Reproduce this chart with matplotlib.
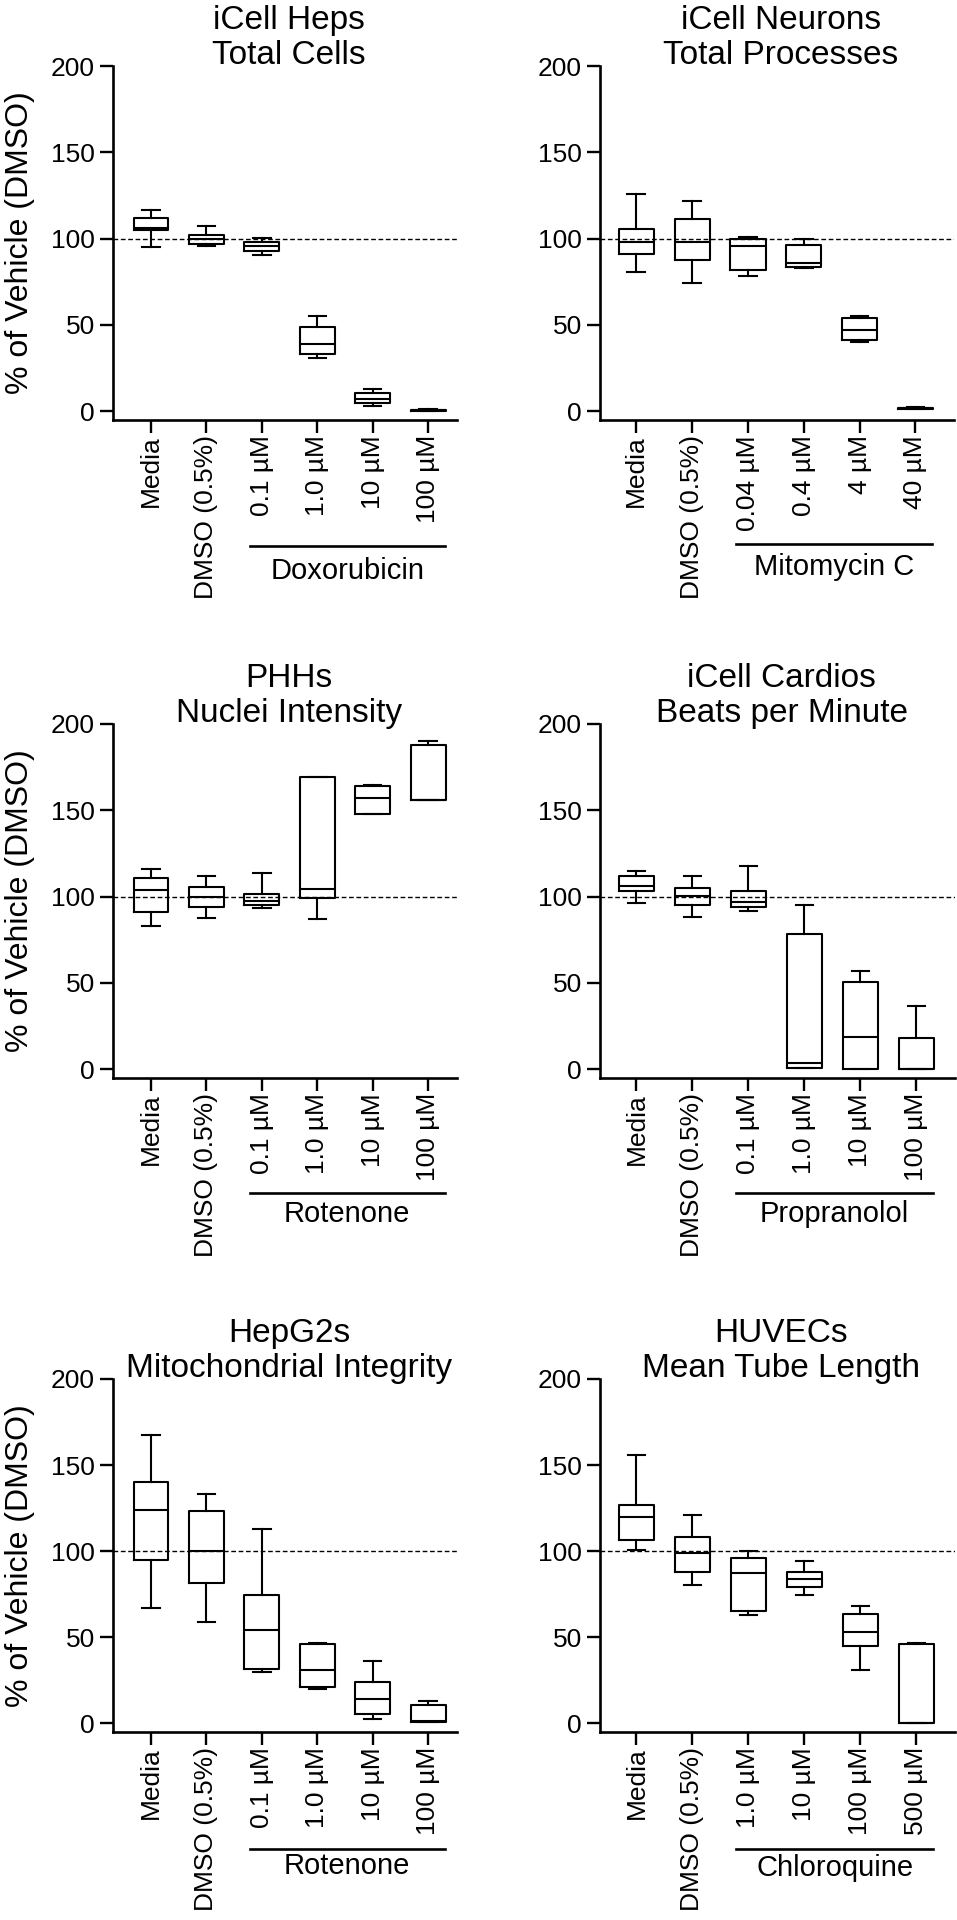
import matplotlib
matplotlib.use('Agg')
import matplotlib.pyplot as plt
from matplotlib.transforms import offset_copy

plt.rcParams['font.family'] = ['Liberation Sans', 'DejaVu Sans']

# box stats per group: (min, q1, median, q3, max), % of vehicle
heps = [(94.9, 105.2, 106.0, 112.0, 116.6), (95.5, 97.0, 99.5, 102.0, 107.0),
        (90.3, 92.6, 95.5, 97.8, 100.3), (30.9, 33.1, 38.9, 48.9, 54.9),
        (3.0, 4.6, 6.9, 10.7, 12.6), (0.0, 0.2, 0.4, 0.8, 1.0)]
neurons = [(80.7, 91.3, 97.7, 105.5, 126.0), (74.5, 87.6, 97.7, 111.2, 121.6),
           (78.0, 81.9, 95.9, 99.8, 100.7), (83.0, 83.5, 86.0, 96.3, 100.0),
           (39.9, 41.3, 47.0, 53.9, 55.0), (1.1, 1.4, 1.6, 1.8, 2.3)]
phh = [(82.8, 90.9, 104.0, 110.5, 116.0), (87.6, 94.0, 99.9, 105.8, 112.0),
       (93.3, 95.1, 97.5, 101.3, 113.6), (86.9, 99.4, 104.6, 169.2, 169.2),
       (147.9, 147.9, 156.9, 163.8, 164.5), (156.2, 156.2, 156.2, 187.7, 190.0)]
cardio = [(96.3, 103.0, 106.0, 111.7, 114.8), (88.3, 95.1, 100.1, 104.9, 112.0),
          (91.6, 94.0, 97.0, 103.0, 117.9), (0.5, 0.5, 3.6, 78.1, 95.1),
          (0.0, 0.0, 18.5, 50.4, 56.8), (0.0, 0.0, 0.0, 17.8, 36.7)]
hepg2 = [(66.6, 95.0, 123.6, 140.0, 167.7), (58.8, 81.3, 99.9, 123.1, 133.4),
         (29.4, 31.3, 53.9, 74.7, 112.6), (19.6, 20.8, 30.6, 46.0, 46.5),
         (2.4, 5.4, 14.2, 23.7, 36.2), (0.7, 0.7, 1.2, 10.3, 12.7)]
huvec = [(100.4, 106.5, 120.0, 126.6, 155.9), (80.3, 87.6, 98.7, 108.4, 121.2),
         (62.9, 64.9, 87.4, 96.2, 99.9), (74.2, 78.8, 84.0, 87.6, 94.2),
         (30.6, 44.6, 53.1, 63.6, 67.8), (0.0, 0.0, 0.0, 46.0, 46.5)]

labels_dox = ['Media', 'DMSO (0.5%)', '0.1 µM', '1.0 µM', '10 µM', '100 µM']
labels_mito = ['Media', 'DMSO (0.5%)', '0.04 µM', '0.4 µM', '4 µM', '40 µM']
labels_chlq = ['Media', 'DMSO (0.5%)', '1.0 µM', '10 µM', '100 µM', '500 µM']

titles = [('iCell Heps', 'Total Cells'), ('iCell Neurons', 'Total Processes'),
          ('PHHs', 'Nuclei Intensity'), ('iCell Cardios', 'Beats per Minute'),
          ('HepG2s', 'Mitochondrial Integrity'), ('HUVECs', 'Mean Tube Length')]
drugs = ['Doxorubicin', 'Mitomycin C', 'Rotenone', 'Propranolol', 'Rotenone', 'Chloroquine']
panel_data = [heps, neurons, phh, cardio, hepg2, huvec]
panel_labels = [labels_dox, labels_mito, labels_dox, labels_dox, labels_dox, labels_chlq]

W, H = 957, 1920
fig = plt.figure(figsize=(W / 100, H / 100), dpi=100)

# pixel layout: (left, right, top, bottom, drug line offset, drug text offset)
rects = [(113, 457, 66, 420, 126, 151), (600, 954, 66, 420, 124, 147),
         (113, 457, 724, 1078, 115, 136), (600, 955, 724, 1078, 115, 136),
         (113, 457, 1379, 1732, 117, 134), (600, 955, 1379, 1732, 117, 136)]

for i, (stats, labs) in enumerate(zip(panel_data, panel_labels)):
    l, r, t, b, dl, dt = rects[i]
    ax = fig.add_axes([l / W, 1 - b / H, (r - l) / W, (b - t) / H])
    bx = [dict(whislo=s[0], q1=s[1], med=s[2], q3=s[3], whishi=s[4], fliers=[]) for s in stats]
    pos = list(range(len(stats)))
    lp = dict(color='black', linewidth=1.5)
    ax.bxp(bx, positions=pos, widths=0.63, showfliers=False, manage_ticks=False,
           boxprops=lp, whiskerprops=lp, capprops=lp, medianprops=lp)
    ax.axhline(100, color='black', lw=1.0, dashes=(3.4, 1.9), zorder=0)

    ax.set_ylim(-5.2, 200)
    if i % 2 == 0:
        ax.set_xlim(-0.686, 5.52)
    else:
        ax.set_xlim(-0.65, 5.69)
    ax.set_yticks([0, 50, 100, 150, 200])
    ax.set_xticks(pos)
    ax.set_xticklabels(labs, rotation=90)
    ax.tick_params(axis='y', length=9.4, width=1.7, labelsize=19, pad=3.6)
    ax.tick_params(axis='x', length=9.4, width=1.7, labelsize=19, pad=1.5)
    for sp in ['top', 'right']:
        ax.spines[sp].set_visible(False)
    for sp in ['left', 'bottom']:
        ax.spines[sp].set_linewidth(1.9)

    # two-line title
    t1 = offset_copy(ax.transAxes, fig=fig, x=4, y=37, units='dots')
    t2 = offset_copy(ax.transAxes, fig=fig, x=4, y=2, units='dots')
    ax.text(0.5, 1, titles[i][0], transform=t1, ha='center', va='baseline', fontsize=24)
    ax.text(0.5, 1, titles[i][1], transform=t2, ha='center', va='baseline', fontsize=24)

    # drug bracket under treatment ticks
    tl = offset_copy(ax.get_xaxis_transform(), fig=fig, y=-dl, units='dots')
    ax.plot([1.78, 5.3], [0, 0], color='black', lw=1.9, transform=tl, clip_on=False)
    tt = offset_copy(ax.get_xaxis_transform(), fig=fig, y=-dt, units='dots')
    ax.text(3.54, 0, drugs[i], transform=tt, ha='center', va='center', fontsize=21)

    if i % 2 == 0:
        ax.set_ylabel('% of Vehicle (DMSO)', fontsize=23)
        ax.yaxis.set_label_coords((35 - l) / (r - l), 0.5)

fig.savefig('out.png', dpi=100, facecolor='white')
